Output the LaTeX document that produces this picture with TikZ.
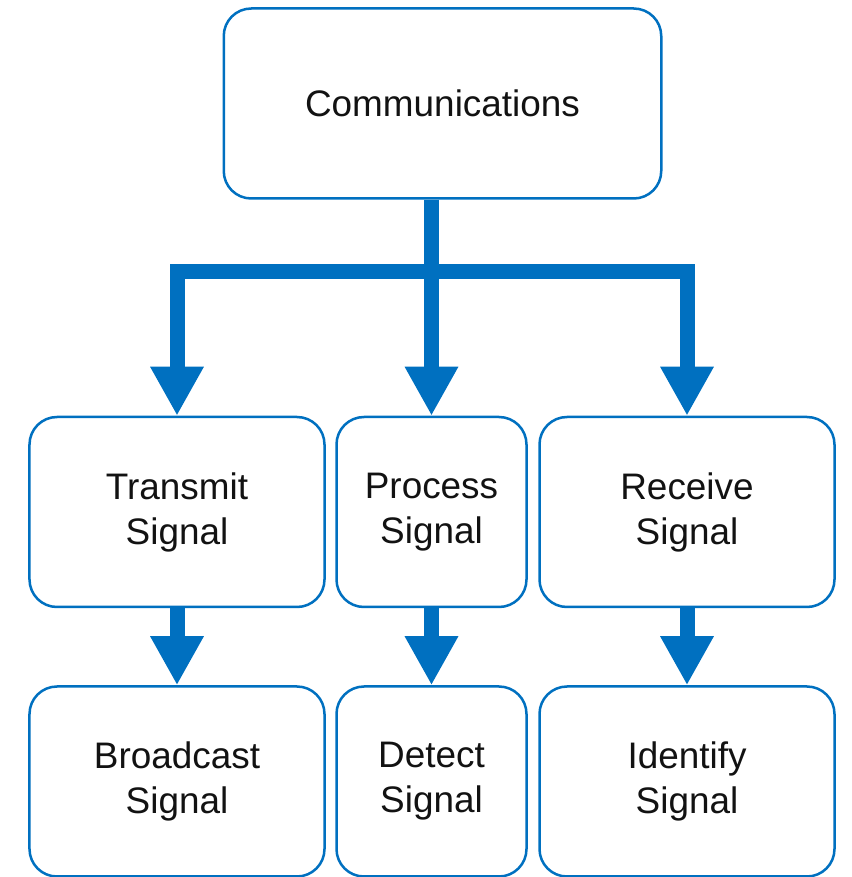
\documentclass[tikz,border=0pt]{standalone}
\usepackage{fontspec}
\setmainfont{Liberation Sans}
\usepackage{tikz}
\usetikzlibrary{positioning,arrows.meta}

\definecolor{flowblue}{HTML}{0070C0}

\begin{document}
\begin{tikzpicture}[node distance=1.54cm,
	block/.style={rectangle,rounded corners=0.55cm,draw=flowblue,line width=0.05cm,fill=white,
		align=center,text=black!93,font=\fontsize{21}{25.6}\selectfont,minimum height=3.8cm},
	wide block/.style={block,minimum width=5.9cm},
	flow/.style={draw=flowblue,line width=0.3cm,line join=miter,-{Triangle[length=0.98cm,width=1cm]}}]

	\useasboundingbox (0,0) rectangle (17.02,17.54);

	\node[block,minimum width=8.75cm] (comm) at (8.85,15.47) {Communications};

	\node[wide block] (transmit) at (3.54,7.30) {Transmit\\Signal};
	\node[block,minimum width=3.8cm] (process) at (8.63,7.30) {Process\\Signal};
	\node[wide block] (receive) at (13.74,7.30) {Receive\\Signal};

	\node[wide block] (broadcast) [below = of transmit] {Broadcast\\Signal};
	\node[block,minimum width=3.8cm] (detect) [below = of process] {Detect\\Signal};
	\node[wide block] (identify) [below = of receive] {Identify\\Signal};

	% trunk and branches
	\coordinate (split) at (8.63,12.10);
	\draw[flow,-] (comm.south -| split) -- (split);
	\draw[flow] (split) -| (transmit.north);
	\draw[flow] (split) -- (process.north);
	\draw[flow] (split) -| (receive.north);

	\draw[flow] (transmit) -- (broadcast);
	\draw[flow] (process) -- (detect);
	\draw[flow] (receive) -- (identify);
\end{tikzpicture}
\end{document}
